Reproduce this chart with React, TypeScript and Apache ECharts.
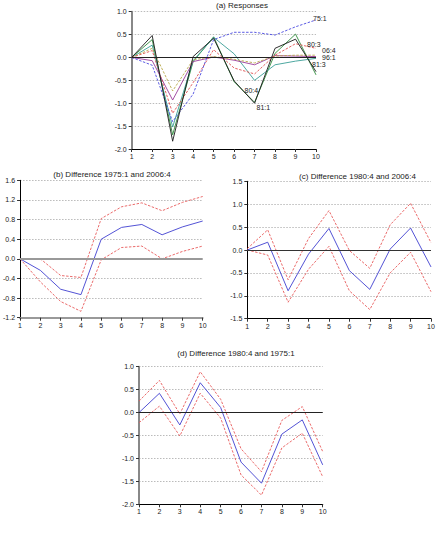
import React, { useEffect, useRef } from 'react';
import * as echarts from 'echarts';

const categories = ['1', '2', '3', '4', '5', '6', '7', '8', '9', '10'];

// Panel (a) Responses
const resp751 = [0, -0.17, -1.4, -0.8, 0.39, 0.55, 0.55, 0.49, 0.67, 0.82];
const resp803 = [0, 0.15, -1.22, -0.55, 0.17, -0.23, -0.36, 0.05, 0.3, 0.2];
const resp064 = [0, 0.2, -0.73, -0.05, 0.02, -0.04, -0.12, 0.03, 0.05, 0.05];
const resp961 = [0, -0.07, -0.93, -0.09, 0.01, -0.06, -0.16, 0.04, 0.03, 0.02];
const resp813 = [0, 0.27, -1.52, -0.07, 0.44, 0.08, -0.5, -0.16, -0.08, -0.02];
const resp804 = [0, 0.39, -1.69, -0.09, 0.45, -0.53, -0.98, 0.09, 0.51, -0.38];
const resp811 = [0, 0.48, -1.83, 0.02, 0.42, -0.51, -1.0, 0.2, 0.4, -0.31];

// Panel (b) Difference 1975:1 and 2006:4
const diffB = [0, -0.235, -0.62, -0.73, 0.4, 0.64, 0.7, 0.49, 0.65, 0.77];
const diffBUpper = [0, 0, -0.34, -0.38, 0.82, 1.06, 1.14, 0.98, 1.15, 1.27];
const diffBLower = [0, -0.47, -0.87, -1.07, -0.02, 0.23, 0.26, 0.0, 0.15, 0.26];

// Panel (c) Difference 1980:4 and 2006:4
const diffC = [0, 0.17, -0.89, -0.09, 0.47, -0.45, -0.86, 0.02, 0.48, -0.37];
const diffCUpper = [0.03, 0.44, -0.65, 0.25, 0.86, -0.01, -0.4, 0.55, 1.02, 0.16];
const diffCLower = [0, -0.11, -1.14, -0.42, 0.08, -0.89, -1.3, -0.5, -0.05, -0.91];

// Panel (d) Difference 1980:4 and 1975:1
const diffD = [0, 0.42, -0.27, 0.65, 0.11, -1.08, -1.54, -0.47, -0.16, -1.14];
const diffDUpper = [0.25, 0.7, -0.03, 0.89, 0.29, -0.79, -1.29, -0.17, 0.13, -0.85];
const diffDLower = [-0.22, 0.14, -0.51, 0.42, -0.12, -1.36, -1.8, -0.77, -0.45, -1.4];

const titles = [
  '(a) Responses',
  '(b) Difference 1975:1 and 2006:4',
  '(c) Difference 1980:4 and 2006:4',
  '(d) Difference 1980:4 and 1975:1',
];

const FONT = '"Liberation Sans", Arial, Helvetica, sans-serif';

const fmt = (v: number) => (Math.abs(v) < 1e-9 ? '0.0' : v.toFixed(1));

export default function App() {
  const ref = useRef<HTMLDivElement>(null);

  useEffect(() => {
    const chart = echarts.init(ref.current!, null, { renderer: 'svg' });

    const grids = [
      { left: 131.7, top: 11.7, width: 184.3, height: 137.3 },
      { left: 18, top: 180.3, width: 184.7, height: 137.4 },
      { left: 247.3, top: 181.3, width: 183.7, height: 137.4 },
      { left: 139, top: 366.7, width: 183.7, height: 137.6 },
    ];

    const xAxisStyle = [
      { color: '#000', width: 1.2 },
      { color: '#999', width: 2 },
      { color: '#000', width: 1.2 },
      { color: '#000', width: 1.2 },
    ];
    const yAxisStyle = [
      { color: '#888', width: 2 },
      { color: '#000', width: 1 },
      { color: '#000', width: 1 },
      { color: '#888', width: 2 },
    ];
    const yRanges = [
      { min: -2, max: 1, interval: 0.5 },
      { min: -1.2, max: 1.6, interval: 0.4 },
      { min: -1.5, max: 1.5, interval: 0.5 },
      { min: -2, max: 1, interval: 0.5 },
    ];
    const zeroStyle = [
      { color: '#222', width: 1.2 },
      { color: '#999', width: 2 },
      { color: '#333', width: 1 },
      { color: '#222', width: 1.2 },
    ];

    const xAxes = grids.map((_, i) => ({
      type: 'category',
      gridIndex: i,
      data: categories,
      boundaryGap: false,
      axisLine: { show: true, onZero: false, lineStyle: xAxisStyle[i] },
      axisTick: { show: true, length: 3, lineStyle: { color: '#333', width: 1 } },
      axisLabel: { fontSize: 7, fontFamily: FONT, color: '#222', margin: 4, interval: 0 },
      splitLine: { show: false },
    }));

    const yAxes = grids.map((_, i) => ({
      type: 'value',
      gridIndex: i,
      min: yRanges[i].min,
      max: yRanges[i].max,
      interval: yRanges[i].interval,
      axisLine: { show: true, onZero: false, lineStyle: yAxisStyle[i] },
      axisTick: { show: true, length: 3, lineStyle: { color: '#333', width: 1 } },
      axisLabel: { fontSize: 7, fontFamily: FONT, color: '#222', margin: 5, formatter: fmt },
      splitLine: { show: true, lineStyle: { color: '#aaa', type: [1.5, 1.5], width: 0.8 } },
    }));

    const zeroMark = (i: number) => ({
      silent: true,
      symbol: ['none', 'none'],
      label: { show: false },
      lineStyle: { ...zeroStyle[i], type: 'solid' },
      data: [{ yAxis: 0 }],
    });

    type LabelSpec = { index: number; dx: number; dy: number };
    const line = (
      name: string,
      data: number[],
      gi: number,
      color: string,
      dashed: boolean,
      label?: LabelSpec,
      withZero?: boolean
    ) => ({
      type: 'line',
      name,
      xAxisIndex: gi,
      yAxisIndex: gi,
      symbol: 'circle',
      symbolSize: 0,
      showSymbol: true,
      itemStyle: { color },
      lineStyle: { color, width: 0.9, type: dashed ? [2.5, 1.5] : 'solid' },
      emphasis: { disabled: true },
      z: withZero ? 3 : 2,
      data: data.map((v, idx) =>
        label && idx === label.index
          ? {
              value: v,
              label: {
                show: true,
                formatter: name,
                position: [label.dx, label.dy],
                align: 'left',
                verticalAlign: 'middle',
                fontSize: 7,
                fontFamily: FONT,
                color: '#222',
              },
            }
          : v
      ),
      ...(withZero ? { markLine: zeroMark(gi) } : {}),
    });

    const BLUE = '#4040d0';
    const RED = '#e85a5a';

    const series = [
      line('81:1', resp811, 0, '#1a1a1a', false, { index: 6, dx: 2, dy: 4 }, true),
      line('80:4', resp804, 0, '#2e8b3a', false, { index: 6, dx: -10, dy: -12 }),
      line('81:3', resp813, 0, '#3a9e96', false, { index: 9, dx: -4, dy: 6 }),
      line('96:1', resp961, 0, '#9a3c9a', false, { index: 9, dx: 6, dy: 1 }),
      line('06:4', resp064, 0, '#b8a848', true, { index: 9, dx: 6, dy: -5 }),
      line('80:3', resp803, 0, '#e05050', true, { index: 9, dx: -9, dy: -4 }),
      line('75:1', resp751, 0, '#4a4ae0', true, { index: 9, dx: -3, dy: -1 }),

      line('b', diffB, 1, BLUE, false, undefined, true),
      line('b upper', diffBUpper, 1, RED, true),
      line('b lower', diffBLower, 1, RED, true),

      line('c', diffC, 2, BLUE, false, undefined, true),
      line('c upper', diffCUpper, 2, RED, true),
      line('c lower', diffCLower, 2, RED, true),

      line('d', diffD, 3, BLUE, false, undefined, true),
      line('d upper', diffDUpper, 3, RED, true),
      line('d lower', diffDLower, 3, RED, true),
    ];

    const titlePos = [
      { x: 242, y: 5.5 },
      { x: 112, y: 174.5 },
      { x: 357.5, y: 176 },
      { x: 236, y: 353.5 },
    ];

    const option = {
      animation: false,
      backgroundColor: '#ffffff',
      textStyle: { fontFamily: FONT },
      grid: grids,
      xAxis: xAxes,
      yAxis: yAxes,
      series,
      graphic: titles.map((t, i) => ({
        type: 'text',
        x: titlePos[i].x,
        y: titlePos[i].y,
        silent: true,
        style: {
          text: t,
          fill: '#222',
          font: `normal 8px ${FONT}`,
          textAlign: 'center',
          textVerticalAlign: 'middle',
        },
      })),
    };

    chart.setOption(option as any);
    return () => chart.dispose();
  }, []);

  return (
    <div
      ref={ref}
      style={{ position: 'absolute', left: 0, top: 0, width: 438, height: 544 }}
    />
  );
}
